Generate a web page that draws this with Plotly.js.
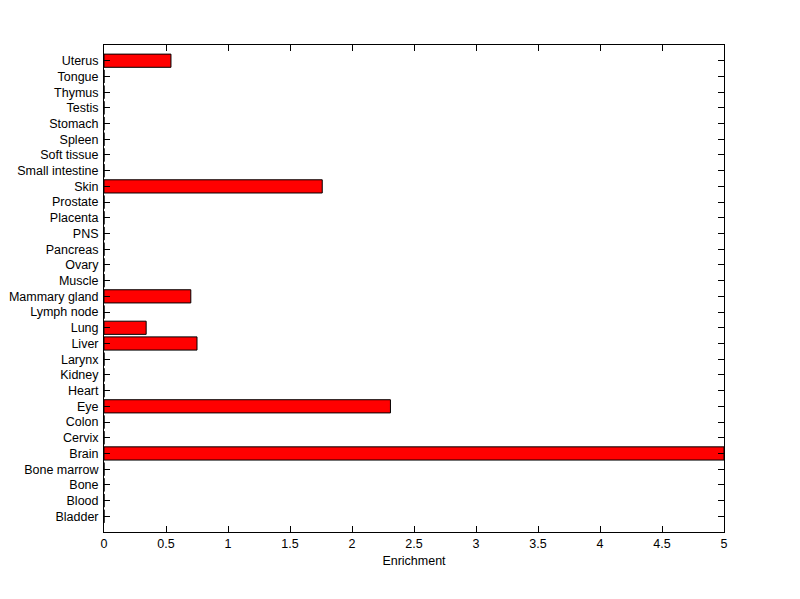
<!DOCTYPE html>
<html>
<head>
<meta charset="utf-8">
<script src="https://cdn.plot.ly/plotly-3.0.1.min.js"></script>
<style>html,body{margin:0;padding:0;background:#fff;}#chart{width:800px;height:599px;}</style>
</head>
<body>
<div id="chart"></div>
<script>
const tissues = ["Bladder","Blood","Bone","Bone marrow","Brain","Cervix","Colon","Eye","Heart","Kidney","Larynx","Liver","Lung","Lymph node","Mammary gland","Muscle","Ovary","Pancreas","PNS","Placenta","Prostate","Skin","Small intestine","Soft tissue","Spleen","Stomach","Testis","Thymus","Tongue","Uterus"];
const enrichment = [0,0,0,0,5.0,0,0,2.31,0,0,0,0.75,0.34,0,0.70,0,0,0,0,0,0,1.76,0,0,0,0,0,0,0,0.54];
const xTicks = [0,0.5,1,1.5,2,2.5,3,3.5,4,4.5,5];
const xTickText = ["0","0.5","1","1.5","2","2.5","3","3.5","4","4.5","5"];

const trace = {
  type: 'bar',
  orientation: 'h',
  x: enrichment,
  y: tissues,
  marker: {color: '#ff0000', line: {color: '#000000', width: 1}},
  hoverinfo: 'x+y'
};

const font = {family: 'Liberation Sans, Arial, Helvetica, sans-serif', size: 12.5, color: '#000'};

const layout = {
  width: 800, height: 599,
  margin: {l: 104, r: 76, t: 45, b: 67, pad: 0},
  paper_bgcolor: '#fff', plot_bgcolor: '#fff',
  font: font,
  showlegend: false,
  bargap: 0.16,
  xaxis: {
    range: [0, 5],
    tickmode: 'array', tickvals: xTicks, ticktext: xTickText,
    ticks: 'inside', ticklen: 6, tickwidth: 1, tickcolor: '#000',
    showline: true, linecolor: '#000', linewidth: 1, mirror: 'ticks',
    showgrid: false, zeroline: false,
    tickfont: font,
    title: {text: 'Enrichment', font: font, standoff: 6}
  },
  yaxis: {
    type: 'category',
    categoryorder: 'array', categoryarray: tissues,
    tickmode: 'array', tickvals: tissues, ticktext: tissues,
    range: [-1, 30],
    ticks: 'inside', ticklen: 6, tickwidth: 1, tickcolor: '#000',
    showline: true, linecolor: '#000', linewidth: 1, mirror: 'ticks',
    showgrid: false, zeroline: false,
    tickfont: font, ticklabelstandoff: 2
  }
};

Plotly.newPlot('chart', [trace], layout, {displayModeBar: false, staticPlot: true});
</script>
</body>
</html>
